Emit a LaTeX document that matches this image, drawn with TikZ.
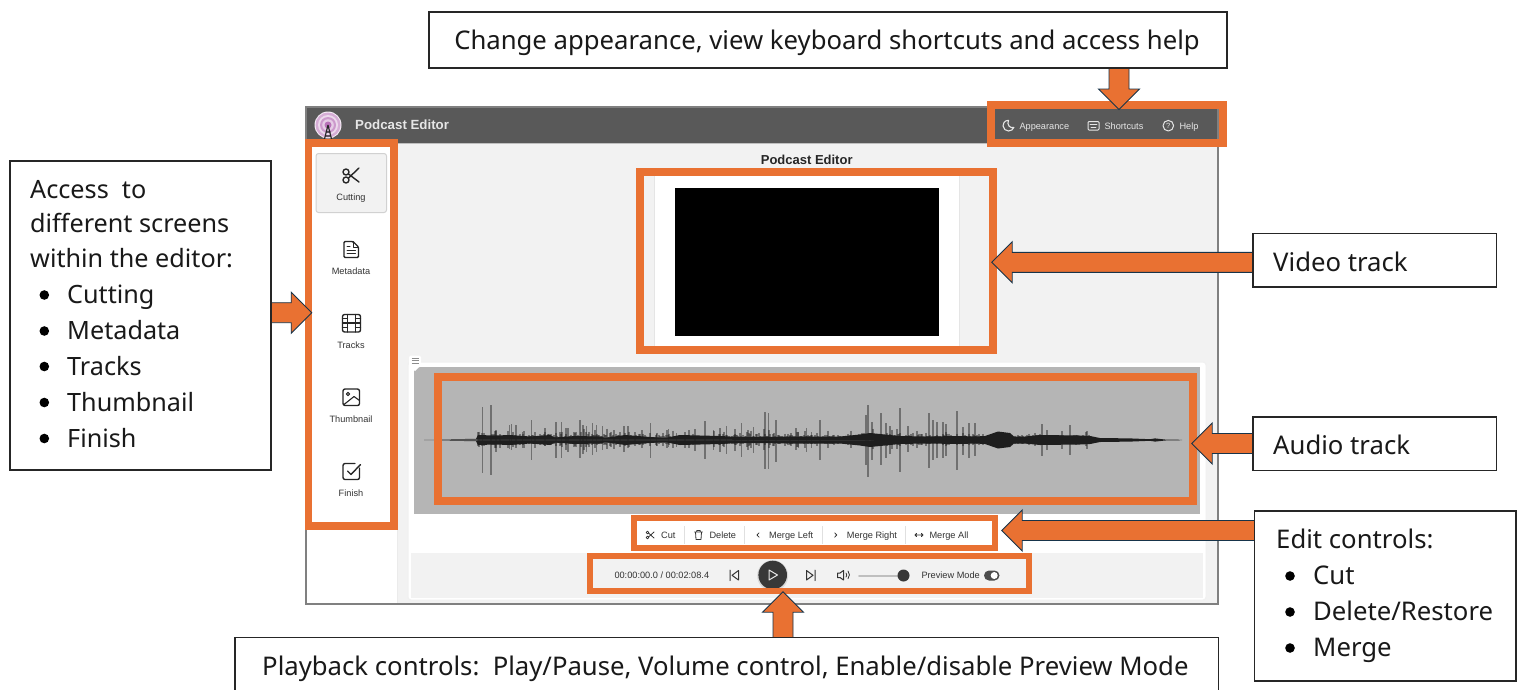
\documentclass[tikz,border=0pt]{standalone}
\usepackage{fontspec}
\setmainfont{Noto Sans}
\newfontfamily\uif{Liberation Sans}
\usetikzlibrary{calc}
\definecolor{org}{HTML}{E97132}
\definecolor{edgec}{HTML}{17344A}
\definecolor{hdr}{HTML}{595959}
\definecolor{uibg}{HTML}{F2F2F2}
\definecolor{wavebg}{HTML}{B5B5B5}
\definecolor{ink}{HTML}{333333}
\definecolor{wavec}{HTML}{1E1E1E}
\definecolor{hink}{HTML}{E6E6E6}
\tikzset{
  callout/.style={draw=black!85,line width=1.1pt,fill=white,anchor=north west,inner sep=0pt,outer sep=0pt},
  big/.style={anchor=base west,inner sep=0pt,font=\fontsize{25.7}{28}\selectfont,text=black!90},
  bigl/.style={big,font=\fontsize{25.2}{28}\selectfont},
  hilite/.style={draw=org,line cap=butt},
  blockarrow/.style={fill=org,draw=edgec,line width=0.9pt,line join=miter},
  ui/.style={inner sep=0pt,text height=6.6pt,text depth=0pt,font=\uif\fontsize{9.2}{11}\selectfont,text=ink},
  uih/.style={ui,text=hink},
  icon/.style={draw=ink,line width=1pt,line join=round,line cap=round},
  iconb/.style={draw=black!85,line width=1.4pt,line join=round,line cap=round},
  iconh/.style={draw=hink,line width=1pt,line join=round,line cap=round},
  sep/.style={draw=black!12,line width=1pt},
  spike/.style={draw=wavec,line width=1.5pt,opacity=.45},
}
\newcommand\blockarrow[2]{%
  \coordinate (ba) at ($(#2)!20.5pt!(#1)$);
  \draw[blockarrow] ($(#1)!10pt!90:(#2)$) -- ($(ba)!10pt!-90:(#1)$) -- ($(ba)!20.5pt!-90:(#1)$)
    -- (#2) -- ($(ba)!20.5pt!90:(#1)$) -- ($(ba)!10pt!90:(#1)$) -- ($(#1)!10pt!-90:(#2)$);
}
\begin{document}
\begin{tikzpicture}[x=1pt,y=-1pt]
\useasboundingbox (0,0) rectangle (1518,689);
\fill[white] (0,0) rectangle (1518,689);

% window
\fill[uibg] (306,107) rectangle (1218,604);
\fill[white] (306,143) rectangle (397,604);
\draw[black!8,line width=1pt] (397.5,143) -- (397.5,604);
\fill[hdr] (306,107) rectangle (1218,143);
\draw[black!25,line width=1pt] (306,143.5) -- (1218,143.5);
\draw[black!50,line width=1.6pt] (306,107) rectangle (1218,604);

% logo
\fill[white!92!violet] (328,125) circle (13.5);
\fill[violet!32] (328,125) circle (12.5);
\fill[white!85!violet] (328,125) circle (10);
\fill[violet!40] (328,125) circle (8);
\fill[white!80!violet] (328,125) circle (5.8);
\fill[violet!55] (328,125) circle (3.5);
\draw[black!85,line width=1.2pt] (328,125) -- (324.5,139) (328,125) -- (331.5,139) (325.5,132) -- (330.5,132) (325,136) -- (331,136);
\node[anchor=west,inner sep=0pt,font=\uif\bfseries\fontsize{13.3}{15}\selectfont,text=hink] (apptitle) at (355,125) {Podcast Editor};

% header actions
\draw[iconh,line width=1.1pt] (1008.5,120.3) .. controls (1004,120.5) and (1002.8,124) .. (1003,126) .. controls (1003.3,129) and (1006,131) .. (1008.5,131) .. controls (1011,131) and (1013,129.5) .. (1013.8,127.5) .. controls (1010,128.5) and (1006.5,125) .. (1008.5,120.3) -- cycle;
\node[uih,anchor=west] (happ) at (1019.3,125.7) {Appearance};
\draw[iconh,rounded corners=1pt] (1088,121.5) rectangle (1099,130);
\draw[iconh,line width=.7pt] (1090,124) -- (1097,124) (1091,127.5) -- (1096,127.5);
\node[uih,anchor=west] (hsho) at (1104.3,125.7) {Shortcuts};
\draw[iconh] (1168.3,125.7) circle (5.3);
\node[inner sep=0pt,text=hink,font=\uif\fontsize{7.5}{8}\selectfont] (hq) at (1168.3,125.7) {?};
\node[uih,anchor=west] (hhel) at (1179.3,125.7) {Help};

% sidebar
\draw[fill=uibg,draw=black!18,line width=1pt,rounded corners=2.5pt] (316,153.5) rectangle (386.5,212.5);
% scissors
\draw[iconb] (346,172) circle (3) (346,180) circle (3);
\draw[iconb] (348.5,174) -- (359,182) (348.5,178) -- (359,168);
\node[ui] (scut) at (351,196.8) {Cutting};
% doc
\draw[iconb,rounded corners=1.2pt] (344,241.5) -- (353,241.5) -- (358.5,247) -- (358.5,257.5) -- (344,257.5) -- cycle;
\draw[iconb,line width=1pt] (353,241.5) -- (353,247) -- (358.5,247) (347,250) -- (355.5,250) (347,253.5) -- (355.5,253.5) (347,246.5) -- (350,246.5);
\node[ui] (smet) at (351,270.8) {Metadata};
% film
\draw[iconb,rounded corners=2pt] (342.5,314.5) rectangle (360.5,332);
\draw[iconb,line width=1.1pt] (347.5,314.5) -- (347.5,332) (355.5,314.5) -- (355.5,332) (342.5,323) -- (360.5,323) (342.5,318.8) -- (347.5,318.8) (342.5,327.5) -- (347.5,327.5) (355.5,318.8) -- (360.5,318.8) (355.5,327.5) -- (360.5,327.5);
\node[ui] (stra) at (351,344.8) {Tracks};
% image
\draw[iconb,rounded corners=2pt] (343,389) rectangle (359.5,405.5);
\draw[iconb,line width=1.1pt] (348,394) circle (1.7);
\draw[iconb,line width=1.1pt] (344,404.5) -- (354,396.5) -- (359.5,400.5);
\node[ui] (sthu) at (351,418.8) {Thumbnail};
% finish
\draw[iconb,rounded corners=2pt] (359.5,468) -- (359.5,479.5) -- (343,479.5) -- (343,463.5) -- (355,463.5);
\draw[iconb] (347.5,471) -- (351,474.5) -- (360.5,464.5);
\node[ui] (sfin) at (351,492.8) {Finish};

% central title and video
\node[inner sep=0pt,font=\uif\bfseries\fontsize{13}{14}\selectfont,text=black!85] (ptitle) at (806.7,160) {Podcast Editor};
\fill[black!10] (653.5,176) rectangle (960,346);
\fill[white] (655,176) rectangle (958.5,346);
\fill[black] (675,187.7) rectangle (938.7,336);

% editor panel
\draw[fill=white,draw=black!6,line width=1pt,rounded corners=3pt] (408,362) rectangle (1206,600);
\fill[uibg] (411,552.5) rectangle (1203,598);
\fill[wavebg] (414,367) rectangle (1199.5,514);
\fill[white,rounded corners=1.5pt] (409,355.5) rectangle (421,367);
\fill[white] (410,366) -- (420,366) -- (415,371) -- cycle;
\draw[black!45,line width=.7pt] (411.5,358.5) -- (418.5,358.5) (411.5,360.8) -- (418.5,360.8) (411.5,363.1) -- (418.5,363.1);

% waveform
\begin{scope}[shift={(0,440)}]
 \def\wavecore{plot coordinates {(424,-.3) (442,-.6) (476,-1.2) (478,-5) (495,-4.5) (510,-5) (530,-3.5) (550,-5) (555,-2.5) (575,-4) (600,-3.5) (605,-2) (625,-5) (650,-3) (665,-2) (680,-5) (720,-4) (740,-3) (765,-3) (790,-3.5) (820,-3.5) (840,-3.5) (860,-5.5) (870,-7) (900,-4) (925,-3.5) (960,-4) (975,-3.5) (985,-4) (998,-8.5) (1010,-7) (1014,-3.5) (1025,-3.5) (1040,-5) (1080,-4.5) (1090,-4) (1100,-2) (1130,-1.6) (1150,-.8) (1155,-1.6) (1165,-.5) (1182,-.2)}}
 \fill[wavec] \wavecore;
 \fill[wavec,yscale=-1] \wavecore;
\end{scope}
\pgfmathsetseed{4217}
\foreach \xx in {479,480,...,984}{
  \pgfmathsetmacro\hh{(3+12*rnd*rnd*rnd)}
  \draw[draw=wavec,line width=1.1pt,opacity=.45] (\xx,440-\hh) -- (\xx,440+.85*\hh);
}
\foreach \xx in {1014,1015,...,1095}{
  \pgfmathsetmacro\hh{(3+8*rnd*rnd*rnd)}
  \draw[draw=wavec,line width=1.1pt,opacity=.45] (\xx,440-\hh) -- (\xx,440+.85*\hh);
}
\foreach \xx/\uu/\dd in {478/8/6,482.7/33/33,491/35/35,496/10/12,500/6/8,509.3/15/9,511.7/16/10,516/15/8,522.7/8/8,531.7/20/20,535/8/8,545/12/6,556/18/18,561.7/18/18,566/12/10,568/12/12,580/20/18,583/15/14,586.7/14/12,592.7/17/15,596.7/15/12,602.7/14/10,614/10/9,620/8/7,628/14/8,635/8/6,650.7/17/18,656.7/6/6,668.3/11/7,676.7/7/7,685/8/8,695/11/11,705/19/19,713.3/10/10,720/12/12,726.7/14/14,735/11/11,741.7/17/17,748/10/10,753.3/13/13,765/28/29,768.3/27/29,776/20/22,790/5/5,798.3/8/8,806.7/12/12,811.7/8/8,820/20/20,866/25/25,868/35/37,872/18/20,881/27/25,886/17/18,890/14/14,900/32/32,908/14/12,929/27/28,933/20/20,937/18/18,943/18/18,946/16/16,957/29/30,963/13/15,969/17/18,975/17/16,1042/16/16,1047/10/10,1062/9/9,1070/15/15,1087/9/9}{
  \draw[spike] (\xx,440-\uu) -- (\xx,440+\dd);
}

% edit controls
\draw[icon,line width=.8pt] (647.5,532.5) circle (1.4) (647.5,537.5) circle (1.4) (649,533.5) -- (654,538) (649,536.5) -- (654,532);
\node[ui,anchor=west] (ecut) at (661,535) {Cut};
\draw[sep] (684.7,526) -- (684.7,544);
\draw[icon,line width=.8pt] (695.5,532) -- (696,539.5) -- (701,539.5) -- (701.5,532) (694.5,532) -- (702.5,532) (696.8,532) -- (696.8,530.5) -- (700.2,530.5) -- (700.2,532);
\node[ui,anchor=west] (edel) at (709.3,535) {Delete};
\draw[sep] (744,526) -- (744,544);
\draw[icon,line width=.8pt] (759,532.8) -- (757,535) -- (759,537.2);
\node[ui,anchor=west] (emel) at (769,535) {Merge Left};
\draw[sep] (822,526) -- (822,544);
\draw[icon,line width=.8pt] (834.7,532.8) -- (836.7,535) -- (834.7,537.2);
\node[ui,anchor=west] (emer) at (846.7,535) {Merge Right};
\draw[sep] (905,526) -- (905,544);
\draw[icon,line width=.8pt] (915,535) -- (923,535) (916.5,533.5) -- (915,535) -- (916.5,536.5) (921.5,533.5) -- (923,535) -- (921.5,536.5);
\node[ui,anchor=west] (emea) at (929.3,535) {Merge All};

% playback controls
\node[ui,anchor=west] (ptime) at (614.3,575.5) {00:00:00.0 / 00:02:08.4};
\draw[icon] (730,570) -- (730,580.5) (738.5,570.5) -- (732,575.3) -- (738.5,580) -- cycle;
\fill[black!15] (772.7,575.7) circle (15.5);
\fill[black!78] (772.7,575) circle (14.3);
\draw[hink,line width=1pt,line join=round] (769,570) -- (777.5,575) -- (769,580) -- cycle;
\draw[icon] (815,570) -- (815,580.5) (806.5,570.5) -- (813,575.3) -- (806.5,580) -- cycle;
\draw[icon] (837.5,573) -- (840,573) -- (843.5,570.5) -- (843.5,580) -- (840,577.5) -- (837.5,577.5) -- cycle;
\draw[icon,line width=.8pt] (846,573) arc[start angle=-40,end angle=40,radius=3.2];
\draw[icon,line width=.8pt] (848,571) arc[start angle=-40,end angle=40,radius=6];
\draw[draw=black!25,line width=2pt,line cap=round] (859,575.5) -- (903,575.5);
\fill[black!78] (903.5,575.5) circle (6);
\node[ui,anchor=west] (pprev) at (921.3,575.5) {Preview Mode};
\fill[black!70,rounded corners=5pt] (984,570.5) rectangle (999.5,580.5);
\fill[white] (994.2,575.5) circle (3.5);

% highlight frames
\draw[hilite,line width=7.8pt] (308.4,143) rectangle (393.9,526);
\draw[hilite,line width=8pt] (639.7,172) rectangle (992.9,350);
\draw[hilite,line width=8pt] (438,376.8) rectangle (1193,501);
\draw[hilite,line width=6pt] (633.5,517.7) rectangle (994.7,547.8);
\draw[hilite,line width=5.8pt] (589.9,555.6) rectangle (1028.8,591);
\draw[hilite,line width=8pt] (991.3,104.7) rectangle (1222.5,143.3);

% callout boxes
\node[callout,minimum width=798pt,minimum height=56pt] (topbox) at (429,12) {};
\node[callout,minimum width=261pt,minimum height=309pt] (leftbox) at (10,161) {};
\node[callout,minimum width=243.7pt,minimum height=53.5pt] (vbox) at (1253,233.5) {};
\node[callout,minimum width=243.7pt,minimum height=53.5pt] (abox) at (1253,417) {};
\node[callout,minimum width=261.5pt,minimum height=170pt] (ebox) at (1254.5,511) {};
\node[callout,minimum width=983.5pt,minimum height=70pt] (pbox) at (235,637.5) {};

% connectors
\coordinate (ttip) at (1119,109.5);
\coordinate (ttail) at (ttip |- topbox.south);
\blockarrow{ttail}{ttip}
\coordinate (ltip) at (311.7,312.7);
\coordinate (ltail) at (ltip -| leftbox.east);
\blockarrow{ltail}{ltip}
\coordinate (vtip) at (991.7,262.3);
\coordinate (vtail) at (vtip -| vbox.west);
\blockarrow{vtail}{vtip}
\coordinate (atip) at (1191.7,443.5);
\coordinate (atail) at (atip -| abox.west);
\blockarrow{atail}{atip}
\coordinate (etip) at (1001.7,530.5);
\coordinate (etail) at (etip -| ebox.west);
\blockarrow{etail}{etip}
\coordinate (ptip) at (783,591.7);
\coordinate (ptail) at (ptip |- pbox.north);
\blockarrow{ptail}{ptip}
% box edges over the arrow tails
\draw[black!85,line width=1.1pt] (topbox.south west) -- (topbox.south east);
\draw[black!85,line width=1.1pt] (leftbox.north east) -- (leftbox.south east);
\draw[black!85,line width=1.1pt] (vbox.north west) -- (vbox.south west);
\draw[black!85,line width=1.1pt] (abox.north west) -- (abox.south west);
\draw[black!85,line width=1.1pt] (ebox.north west) -- (ebox.south west);
\draw[black!85,line width=1.1pt] (pbox.north west) -- (pbox.north east);

% callout text
\node[big,anchor=base] (ttext) at (827,49.5) {Change appearance, view keyboard shortcuts and access help};
\node[bigl] (l1) at (30,198.5) {Access\ \ to};
\node[bigl] (l2) at (30,232.5) {different screens};
\node[bigl] (l3) at (30,267.5) {within the editor:};
\foreach \yy/\nm/\tx in {303.5/la/Cutting,339.5/lb/Metadata,375/lc/Tracks,411/ld/Thumbnail,447/le/Finish}{
  \fill[black] (44.3,\yy-8.5) circle (4.8);
  \node[bigl] (\nm) at (67,\yy) {\tx};
}
\node[big] (vtext) at (1273,271.5) {Video track};
\node[big] (atext) at (1273,454.5) {Audio track};
\node[big] (e0) at (1276,548.5) {Edit controls:};
\foreach \yy/\nm/\tx in {584.5/ea/Cut,620.5/eb/Delete\slash Restore,656.5/ec/Merge}{
  \fill[black] (1290,\yy-8.5) circle (4.8);
  \node[big] (\nm) at (1313,\yy) {\tx};
}
\node[big] (ptext) at (262,675.5) {Playback controls:\ \ Play/Pause, Volume control, Enable/disable Preview Mode};
\end{tikzpicture}
\end{document}
